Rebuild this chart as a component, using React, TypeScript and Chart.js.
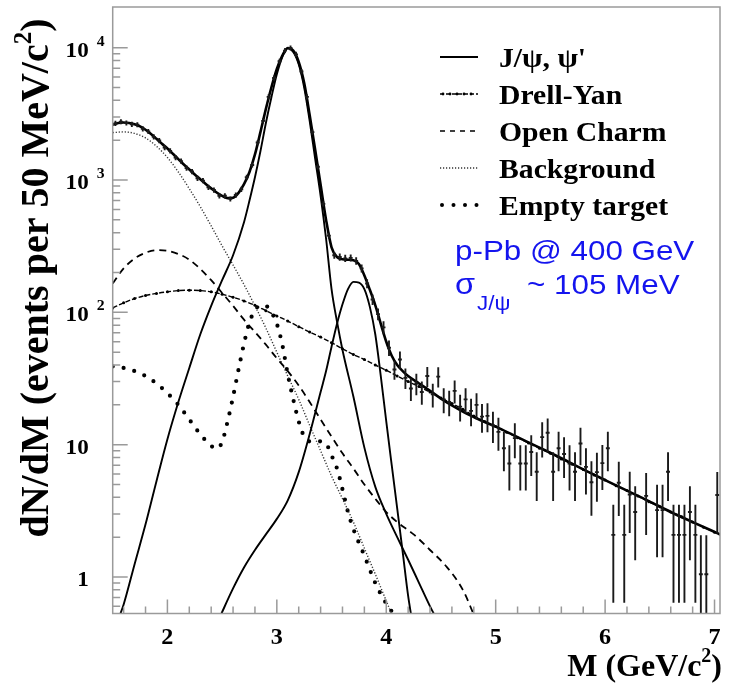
import React, { useEffect, useRef } from "react";
import { Chart, registerables } from "chart.js";

Chart.register(...registerables);

// ---------- axis ranges & ticks ----------
const X_RANGE = [1.5, 7.05];
const Y_RANGE = [0.53, 20300];
const X_MAJOR = [2, 3, 4, 5, 6, 7];
const X_MINOR = [1.6, 1.8, 2.2, 2.4, 2.6, 2.8, 3.2, 3.4, 3.6, 3.8, 4.2, 4.4, 4.6, 4.8, 5.2, 5.4, 5.6, 5.8, 6.2, 6.4, 6.6, 6.8];
const Y_MAJOR = [1, 10, 100, 1000, 10000];
const Y_MINOR = [0.6, 0.7, 0.8, 0.9, 2, 3, 4, 5, 6, 7, 8, 9, 20, 30, 40, 50, 60, 70, 80, 90, 200, 300, 400, 500, 600, 700, 800, 900, 2000, 3000, 4000, 5000, 6000, 7000, 8000, 9000];
const Y_LABELS = [
  { v: 1, base: "1", sup: "" },
  { v: 10, base: "10", sup: "" },
  { v: 100, base: "10", sup: "2" },
  { v: 1000, base: "10", sup: "3" },
  { v: 10000, base: "10", sup: "4" },
];

// ---------- measured data (50 MeV bins) ----------
const binCenters = [
  1.525, 1.575, 1.625, 1.675, 1.725, 1.775, 1.825, 1.875, 1.925, 1.975,
  2.025, 2.075, 2.125, 2.175, 2.225, 2.275, 2.325, 2.375, 2.425, 2.475,
  2.525, 2.575, 2.625, 2.675, 2.725, 2.775, 2.825, 2.875, 2.925, 2.975,
  3.025, 3.075, 3.125, 3.175, 3.225, 3.275, 3.325, 3.375, 3.425, 3.475,
  3.525, 3.575, 3.625, 3.675, 3.725, 3.775, 3.825, 3.875, 3.925, 3.975,
  4.025, 4.075, 4.125, 4.175, 4.225, 4.275, 4.325, 4.375, 4.425, 4.475,
  4.525, 4.575, 4.625, 4.675, 4.725, 4.775, 4.825, 4.875, 4.925, 4.975,
  5.025, 5.075, 5.125, 5.175, 5.225, 5.275, 5.325, 5.375, 5.425, 5.475,
  5.525, 5.575, 5.625, 5.675, 5.725, 5.775, 5.825, 5.875, 5.925, 5.975,
  6.025, 6.075, 6.125, 6.175, 6.225, 6.275, 6.325, 6.375, 6.425, 6.475,
  6.525, 6.575, 6.625, 6.675, 6.725, 6.775, 6.825, 6.875, 6.925, 6.975,
  7.025,
];
const counts = [
  2680, 2760, 2700, 2640, 2620, 2440, 2330, 2120, 1990, 1760,
  1660, 1480, 1390, 1230, 1160, 1030, 990, 880, 840, 760,
  760, 720, 770, 850, 1050, 1300, 1920, 2800, 4250, 5900,
  7900, 9500, 9950, 8900, 6600, 4250, 2300, 1260, 660, 380,
  270, 262, 256, 258, 245, 215, 165, 125, 97, 77,
  54, 37, 44, 32, 26.6, 29, 25, 33, 24, 32.7,
  22, 21, 25.5, 19.4, 22, 18, 20, 16.3, 16.5, 14.0,
  12.5, 9.4, 7.2, 11.2, 7.2, 7.2, 8.8, 6.25, 11.4, 12.3,
  6.25, 9.4, 8.5, 7.2, 6.25, 10.2, 6.8, 5.2, 6.2, 7.25,
  9.4, 2.08, 5.16, 2.08, 4.2, 3.1, null, 4.1, null, 3.2,
  3.2, 6.25, 2.08, 2.08, 2.08, 3.1, 2.08, 1.05, 1.05, null,
  4.17,
];
const errors = [
  120, 124, 122, 119, 118, 110, 105, 95, 90, 79,
  75, 67, 63, 55, 52, 46, 45, 40, 38, 34,
  34, 32, 35, 38, 47, 58, 86, 126, 190, 265,
  355, 425, 445, 400, 300, 190, 104, 57, 30, 19.5,
  16.4, 16.2, 16, 16, 15.7, 14.7, 12.8, 11.2, 9.8, 8.8,
  7.3, 6.1, 6.6, 5.7, 5.2, 5.4, 5, 5.7, 4.9, 5.7,
  4.7, 4.6, 5, 4.4, 4.7, 4.2, 4.5, 4, 4.1, 3.7,
  3.5, 3.1, 2.7, 3.3, 2.7, 2.7, 3, 2.5, 3.4, 3.5,
  2.5, 3.1, 2.9, 2.7, 2.5, 3.2, 2.6, 2.3, 2.5, 2.7,
  3.1, 1.44, 2.27, 1.44, 2.05, 1.76, null, 2.02, null, 1.79,
  1.79, 2.5, 1.44, 1.44, 1.44, 1.76, 1.44, 1.02, 1.02, null,
  2.04,
];
const BIN_HALF_MARK = 0.018;

// ---------- fit curves ----------
const totalX = [1.5, 1.55, 1.6, 1.65, 1.7, 1.75, 1.8, 1.85, 1.9, 1.95, 2.0, 2.05, 2.1, 2.15, 2.2, 2.25, 2.3, 2.35, 2.4, 2.45, 2.5, 2.55, 2.6, 2.65, 2.7, 2.75, 2.8, 2.85, 2.9, 2.95, 3.0, 3.05, 3.1, 3.15, 3.2, 3.25, 3.3, 3.35, 3.4, 3.45, 3.5, 3.55, 3.6, 3.65, 3.7, 3.75, 3.8, 3.85, 3.9, 3.95, 4.0, 4.05, 4.1, 4.15, 4.2, 4.3, 4.4, 4.5, 4.6, 4.7, 4.8, 4.9, 5.0, 5.2, 5.4, 5.6, 5.8, 6.0, 6.2, 6.4, 6.6, 6.8, 7.05];
const totalY = [2620, 2700, 2720, 2700, 2640, 2540, 2400, 2230, 2050, 1880, 1730, 1580, 1440, 1310, 1200, 1100, 1015, 935, 865, 805, 760, 730, 735, 800, 930, 1150, 1560, 2300, 3450, 5000, 6900, 8700, 9950, 9500, 7800, 5400, 3100, 1700, 920, 500, 310, 262, 252, 250, 248, 232, 190, 148, 113, 82, 60, 47, 40, 36, 33, 29, 25.5, 22.3, 19.8, 17.8, 16.2, 14.8, 13.7, 11.4, 9.5, 7.9, 6.5, 5.4, 4.5, 3.75, 3.1, 2.6, 2.1];

const jpsiX = [1.56, 1.6, 1.7, 1.8, 1.9, 2.0, 2.1, 2.2, 2.3, 2.4, 2.5, 2.6, 2.7, 2.75, 2.8, 2.85, 2.9, 2.95, 3.0, 3.05, 3.1, 3.15, 3.2, 3.25, 3.3, 3.35, 3.4, 3.45, 3.5, 3.55, 3.6, 3.7, 3.8, 3.9, 4.0, 4.1, 4.2, 4.3, 4.4, 4.45];
const jpsiY = [0.5, 0.62, 1.25, 2.5, 5.3, 11, 21, 38, 68, 112, 175, 270, 480, 700, 1050, 1650, 2700, 4200, 6300, 8500, 9900, 9300, 7500, 5000, 2800, 1450, 760, 360, 150, 85, 52, 23, 9.5, 4.8, 3.0, 2.0, 1.35, 0.9, 0.6, 0.5];

const psipX = [2.48, 2.6, 2.7, 2.8, 2.9, 3.0, 3.1, 3.2, 3.3, 3.4, 3.45, 3.5, 3.55, 3.6, 3.65, 3.7, 3.75, 3.8, 3.85, 3.9, 3.95, 4.0, 4.05, 4.1, 4.15, 4.2, 4.23];
const psipY = [0.5, 0.82, 1.18, 1.6, 2.1, 2.75, 3.8, 6.2, 12, 25, 36, 55, 82, 115, 150, 170, 168, 150, 110, 68, 33, 15, 7, 3.3, 1.55, 0.72, 0.5];

const dyX = [1.5, 1.6, 1.7, 1.8, 1.9, 2.0, 2.1, 2.2, 2.3, 2.4, 2.5, 2.6, 2.7, 2.8, 2.9, 3.0, 3.1, 3.2, 3.3, 3.4, 3.5, 3.6, 3.7, 3.8, 3.9, 4.0, 4.1, 4.2, 4.3, 4.4, 4.5, 4.6, 4.7, 4.8, 4.9, 5.0, 5.1, 5.2, 5.3, 5.4, 5.5, 5.6, 5.7, 5.8, 5.9, 6.0, 6.1, 6.2, 6.3, 6.4, 6.5, 6.6, 6.7, 6.8, 6.9, 7.0, 7.05];
const dyY = [108, 118, 127, 134, 139, 143, 146, 147, 146, 143, 137, 130, 122, 113, 103, 94, 86, 78, 71, 65, 59, 53, 48, 44, 40, 36.5, 33, 30, 27.5, 25, 22.5, 20.5, 18.5, 16.5, 15, 13.7, 12.4, 11.3, 10.3, 9.4, 8.6, 7.8, 7.1, 6.5, 5.9, 5.4, 4.9, 4.5, 4.1, 3.7, 3.4, 3.1, 2.85, 2.6, 2.38, 2.18, 2.1];

const ocX = [1.5, 1.6, 1.7, 1.8, 1.9, 2.0, 2.1, 2.2, 2.3, 2.4, 2.5, 2.6, 2.7, 2.8, 2.9, 3.0, 3.1, 3.2, 3.3, 3.4, 3.5, 3.6, 3.7, 3.8, 3.9, 4.0, 4.1, 4.25, 4.4, 4.55, 4.7, 4.8];
const ocY = [165, 215, 255, 282, 295, 292, 276, 250, 213, 175, 140, 112, 88, 71, 57, 45, 36, 28, 21, 15.5, 11.5, 8.6, 6.6, 5.0, 3.9, 3.1, 2.6, 2.1, 1.6, 1.2, 0.8, 0.52];

const bkgX = [1.5, 1.6, 1.7, 1.8, 1.9, 2.0, 2.1, 2.2, 2.3, 2.4, 2.5, 2.6, 2.7, 2.8, 2.9, 3.0, 3.1, 3.2, 3.3, 3.4, 3.5, 3.6, 3.7, 3.8, 3.9, 4.0, 4.06];
const bkgY = [2280, 2310, 2250, 2080, 1800, 1480, 1150, 860, 630, 450, 318, 228, 162, 112, 76, 50, 33, 22, 14, 9, 5.8, 3.9, 2.6, 1.65, 1.05, 0.66, 0.5];

const etX = [1.5, 1.6, 1.7, 1.8, 1.9, 2.0, 2.1, 2.2, 2.3, 2.4, 2.45, 2.5, 2.55, 2.6, 2.65, 2.7, 2.75, 2.8, 2.85, 2.9, 2.95, 3.0, 3.05, 3.1, 3.15, 3.2, 3.25, 3.3, 3.35, 3.4, 3.45, 3.5, 3.55, 3.6, 3.65, 3.7, 3.8, 3.9, 4.0, 4.05];
const etY = [39, 38, 36, 33, 29, 24.5, 20, 15.5, 12, 9.8, 9.3, 10.5, 15, 23, 37, 58, 84, 104, 113, 112, 100, 82, 57, 34, 22, 15, 11.5, 10.6, 10.6, 10.6, 10.2, 8.3, 6.6, 4.6, 3.1, 2.3, 1.45, 0.9, 0.63, 0.55];

// ---------- texts ----------
const LEGEND_LABELS = ["J/\u03c8, \u03c8'", "Drell-Yan", "Open Charm", "Background", "Empty target"];
const NOTE_LINE1 = "p-Pb @ 400 GeV";
const NOTE_SIGMA = "\u03c3";
const NOTE_SUB = "J/\u03c8";
const NOTE_REST = "~ 105 MeV";
const Y_TITLE = ["dN/dM (events per 50 MeV/c", "2", ")"];
const X_TITLE = ["M (GeV/c", "2", ")"];

const SERIF = '"Liberation Serif", "Times New Roman", serif';
const SANS = '"Liberation Sans", Arial, sans-serif';
const BLUE = "#1414ee";

const pts = (xs: number[], ys: (number | null)[]) => xs.map((x, i) => ({ x, y: ys[i] }));

function stretchText(ctx: CanvasRenderingContext2D, text: string, x: number, y: number, font: string, align: CanvasTextAlign, sx: number) {
  ctx.save();
  ctx.font = font;
  ctx.textAlign = align;
  ctx.textBaseline = "alphabetic";
  ctx.translate(x, y);
  ctx.scale(sx, 1);
  ctx.fillText(text, 0, 0);
  ctx.restore();
}

function drawSample(ctx: CanvasRenderingContext2D, kind: number, x0: number, x1: number, y: number) {
  ctx.save();
  ctx.strokeStyle = "#000";
  ctx.fillStyle = "#000";
  ctx.lineCap = "butt";
  if (kind === 0) {
    ctx.lineWidth = 2;
    ctx.beginPath(); ctx.moveTo(x0, y); ctx.lineTo(x1, y); ctx.stroke();
  } else if (kind === 1) {
    ctx.lineWidth = 1.5;
    ctx.setLineDash([4, 2]);
    ctx.beginPath(); ctx.moveTo(x0, y); ctx.lineTo(x1, y); ctx.stroke();
    ctx.setLineDash([]);
    for (let px = x0 + 3; px < x1; px += 7) { ctx.beginPath(); ctx.arc(px, y, 1.4, 0, Math.PI * 2); ctx.fill(); }
  } else if (kind === 2) {
    ctx.lineWidth = 1.6;
    ctx.setLineDash([5, 5]);
    ctx.beginPath(); ctx.moveTo(x0, y); ctx.lineTo(x1, y); ctx.stroke();
  } else if (kind === 3) {
    ctx.lineWidth = 1.3;
    ctx.setLineDash([1.2, 1.8]);
    ctx.strokeStyle = "#333";
    ctx.beginPath(); ctx.moveTo(x0, y); ctx.lineTo(x1, y); ctx.stroke();
  } else {
    for (let px = x0 + 2; px <= x1; px += 11.5) { ctx.beginPath(); ctx.arc(px, y, 2, 0, Math.PI * 2); ctx.fill(); }
  }
  ctx.restore();
}

const errorBarPlugin = {
  id: "errorBars",
  afterDatasetsDraw(chart: any) {
    const { ctx, chartArea: ca, scales } = chart;
    const xs = scales.x, ys = scales.y;
    ctx.save();
    ctx.beginPath();
    ctx.rect(ca.left, ca.top, ca.right - ca.left, ca.bottom - ca.top);
    ctx.clip();
    ctx.strokeStyle = "#1a1a1a";
    ctx.lineWidth = 1.9;
    for (let i = 0; i < binCenters.length; i++) {
      const c = counts[i];
      const e = errors[i];
      if (c == null || e == null) continue;
      const px = xs.getPixelForValue(binCenters[i]);
      const py = ys.getPixelForValue(c);
      const top = ys.getPixelForValue(c + e);
      const lo = c - e;
      const bot = lo > 0 ? ys.getPixelForValue(lo) : ca.bottom + 5;
      ctx.beginPath();
      ctx.moveTo(px, top); ctx.lineTo(px, bot);
      ctx.moveTo(xs.getPixelForValue(binCenters[i] - BIN_HALF_MARK), py);
      ctx.lineTo(xs.getPixelForValue(binCenters[i] + BIN_HALF_MARK), py);
      ctx.stroke();
    }
    ctx.restore();
  },
};

const decorPlugin = {
  id: "decor",
  afterDraw(chart: any) {
    const { ctx, chartArea: ca, scales } = chart;
    const xs = scales.x, ys = scales.y;
    ctx.save();
    // frame + ticks
    ctx.strokeStyle = "#9a9a9a";
    ctx.lineWidth = 1.5;
    ctx.strokeRect(ca.left, ca.top, ca.right - ca.left, ca.bottom - ca.top);
    ctx.beginPath();
    for (const v of Y_MAJOR) { const p = ys.getPixelForValue(v); ctx.moveTo(ca.left, p); ctx.lineTo(ca.left + 15, p); }
    for (const v of Y_MINOR) { const p = ys.getPixelForValue(v); ctx.moveTo(ca.left, p); ctx.lineTo(ca.left + 7.5, p); }
    for (const v of X_MAJOR) { const p = xs.getPixelForValue(v); ctx.moveTo(p, ca.bottom); ctx.lineTo(p, ca.bottom - 14); }
    for (const v of X_MINOR) { const p = xs.getPixelForValue(v); ctx.moveTo(p, ca.bottom); ctx.lineTo(p, ca.bottom - 7); }
    ctx.stroke();

    ctx.fillStyle = "#000";
    // y tick labels
    for (const t of Y_LABELS) {
      const p = ys.getPixelForValue(t.v);
      stretchText(ctx, t.base, ca.left - 24, p + 9, `bold 22px ${SERIF}`, "right", 1.05);
      if (t.sup) stretchText(ctx, t.sup, ca.left - 16, p - 2, `bold 15px ${SERIF}`, "left", 1.05);
    }
    // x tick labels
    for (const v of X_MAJOR) {
      stretchText(ctx, String(v), xs.getPixelForValue(v), ca.bottom + 30, `bold 23px ${SERIF}`, "center", 1.05);
    }
    // x title (right aligned)
    {
      const f1 = `bold 32px ${SERIF}`, f2 = `bold 20px ${SERIF}`;
      ctx.font = f1; const w1 = ctx.measureText(X_TITLE[0]).width; const w3 = ctx.measureText(X_TITLE[2]).width;
      ctx.font = f2; const w2 = ctx.measureText(X_TITLE[1]).width;
      const right = ca.right + 2;
      const base = ca.bottom + 62;
      let x = right - (w1 + w2 + w3);
      ctx.font = f1; ctx.textAlign = "left"; ctx.fillText(X_TITLE[0], x, base); x += w1;
      ctx.font = f2; ctx.fillText(X_TITLE[1], x, base - 14); x += w2;
      ctx.font = f1; ctx.fillText(X_TITLE[2], x, base);
    }
    // y title (rotated)
    {
      const f1 = `bold 40px ${SERIF}`, f2 = `bold 25px ${SERIF}`;
      ctx.save();
      ctx.translate(48, 278);
      ctx.rotate(-Math.PI / 2);
      ctx.font = f1; const w1 = ctx.measureText(Y_TITLE[0]).width; const w3 = ctx.measureText(Y_TITLE[2]).width;
      ctx.font = f2; const w2 = ctx.measureText(Y_TITLE[1]).width;
      let x = -(w1 + w2 + w3) / 2;
      ctx.textAlign = "left";
      ctx.font = f1; ctx.fillText(Y_TITLE[0], x, 0); x += w1;
      ctx.font = f2; ctx.fillText(Y_TITLE[1], x, -17); x += w2;
      ctx.font = f1; ctx.fillText(Y_TITLE[2], x, 0);
      ctx.restore();
    }
    // legend
    for (let i = 0; i < LEGEND_LABELS.length; i++) {
      const y = 57 + i * 37;
      drawSample(ctx, i, 440, 478, y);
      ctx.fillStyle = "#000";
      stretchText(ctx, LEGEND_LABELS[i], 499, y + 9.5, `bold 27px ${SERIF}`, "left", 1.1);
    }
    // annotation
    ctx.fillStyle = BLUE;
    stretchText(ctx, NOTE_LINE1, 455, 260, `28px ${SANS}`, "left", 1.12);
    stretchText(ctx, NOTE_SIGMA, 455, 294, `29px ${SANS}`, "left", 1.12);
    stretchText(ctx, NOTE_SUB, 477, 310, `20px ${SANS}`, "left", 1.12);
    stretchText(ctx, NOTE_REST, 527, 294, `28px ${SANS}`, "left", 1.12);
    ctx.restore();
  },
};

export default function App() {
  const ref = useRef<HTMLCanvasElement>(null);
  useEffect(() => {
    const canvas = ref.current;
    if (!canvas) return;
    const line = (data: any[], extra: any) => ({
      data,
      borderColor: "#000",
      backgroundColor: "#000",
      pointRadius: 0,
      borderWidth: 2,
      cubicInterpolationMode: "monotone",
      fill: false,
      ...extra,
    });
    const chart = new Chart(canvas, {
      type: "line",
      data: {
        datasets: [
          line(pts(totalX, totalY), { label: "Total", borderWidth: 2.6 }),
          line(pts(jpsiX, jpsiY), { label: "J/psi", borderWidth: 1.9 }),
          line(pts(psipX, psipY), { label: "psi'", borderWidth: 1.9 }),
          line(pts(dyX, dyY), { label: "Drell-Yan", borderWidth: 1.4, borderDash: [5, 2], pointRadius: 1.5, pointBorderWidth: 0, pointBackgroundColor: "#000" }),
          line(pts(ocX, ocY), { label: "Open Charm", borderWidth: 1.8, borderDash: [7, 5] }),
          line(pts(bkgX, bkgY), { label: "Background", borderWidth: 1.4, borderDash: [1.2, 1.8], borderColor: "#333" }),
          line(pts(etX, etY), { label: "Empty target", borderWidth: 4.2, borderDash: [0, 11], borderCapStyle: "round" }),
        ],
      },
      options: {
        responsive: false,
        animation: false,
        devicePixelRatio: 1,
        events: [],
        layout: { padding: { left: 112.7, right: 9, top: 7, bottom: 71.5 } },
        plugins: { legend: { display: false }, tooltip: { enabled: false } },
        scales: {
          x: { type: "linear", min: X_RANGE[0], max: X_RANGE[1], display: false },
          y: { type: "logarithmic", min: Y_RANGE[0], max: Y_RANGE[1], display: false },
        },
      },
      plugins: [errorBarPlugin, decorPlugin],
    } as any);
    return () => chart.destroy();
  }, []);
  return (
    <div style={{ position: "absolute", left: 0, top: 0, width: 729, height: 685, background: "#fff" }}>
      <canvas ref={ref} width={729} height={685} style={{ display: "block", width: 729, height: 685 }} />
    </div>
  );
}
